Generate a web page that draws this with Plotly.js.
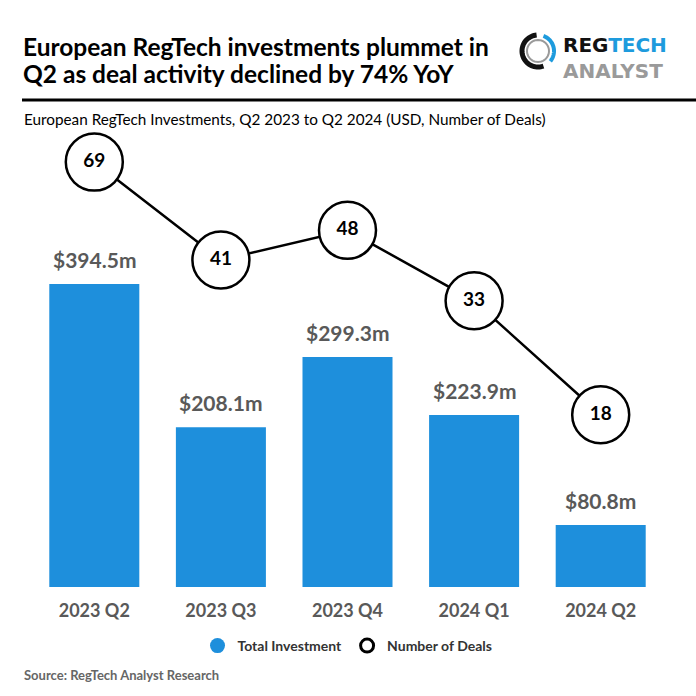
<!DOCTYPE html>
<html>
<head>
<meta charset="utf-8">
<script src="https://cdn.plot.ly/plotly-3.0.1.min.js"></script>
<style>html,body{margin:0;padding:0;background:#fff;}#chart{width:696px;height:696px;}</style>
</head>
<body>
<div id="chart"></div>
<script>
const categories = ['2023 Q2', '2023 Q3', '2023 Q4', '2024 Q1', '2024 Q2'];
const investment = [394.5, 208.1, 299.3, 223.9, 80.8];
const investmentLabels = ['$394.5m', '$208.1m', '$299.3m', '$223.9m', '$80.8m'];
const deals = [69, 41, 48, 33, 18];
const dealLabels = ['69', '41', '48', '33', '18'];

const W = 696, H = 696;
const L = 31, R = 664, T = 130, B = 587;
const px = x => (x - L) / (R - L);
const py = y => (B - y) / (B - T);
const FONT = 'Lato, "Open Sans", sans-serif';
const BLUE = '#1E8FDC';

const traces = [
  {
    type: 'bar', x: categories, y: investment, marker: {color: BLUE},
    showlegend: false, hoverinfo: 'skip'
  },
  {
    type: 'scatter', mode: 'lines+markers+text', x: categories, y: deals, yaxis: 'y2',
    text: dealLabels, textposition: 'middle center',
    textfont: {family: FONT, size: 19, color: '#000', weight: 'bold'},
    line: {color: '#000', width: 2.5},
    marker: {size: 57, color: '#fff', line: {color: '#000', width: 2.5}},
    showlegend: false, hoverinfo: 'skip', cliponaxis: false
  },
  {
    type: 'scatter', mode: 'markers', x: [null], y: [null], name: 'Total Investment',
    marker: {size: 15, color: BLUE}
  },
  {
    type: 'scatter', mode: 'markers', x: [null], y: [null], name: 'Number of Deals',
    marker: {size: 13, color: '#fff', line: {color: '#000', width: 3}}
  }
];

const annotations = investment.map((v, i) => ({
  x: categories[i], y: v, xref: 'x', yref: 'y', text: investmentLabels[i],
  showarrow: false, yanchor: 'bottom', yshift: 10,
  font: {family: FONT, size: 21, color: '#595959', weight: 'bold'}
}));

annotations.push(
  {xref: 'paper', yref: 'paper', x: px(21), y: py(46), xanchor: 'left', yanchor: 'middle',
   text: 'European RegTech investments plummet in', showarrow: false,
   font: {family: FONT, size: 24.5, color: '#000', weight: 'bold'}},
  {xref: 'paper', yref: 'paper', x: px(21), y: py(73), xanchor: 'left', yanchor: 'middle',
   text: 'Q2 as deal activity declined by 74% YoY', showarrow: false,
   font: {family: FONT, size: 24.5, color: '#000', weight: 'bold'}},
  {xref: 'paper', yref: 'paper', x: px(22), y: py(119), xanchor: 'left', yanchor: 'middle',
   text: 'European RegTech Investments, Q2 2023 to Q2 2024 (USD, Number of Deals)', showarrow: false,
   font: {family: FONT, size: 15.3, color: '#000'}},
  {xref: 'paper', yref: 'paper', x: px(22), y: py(675), xanchor: 'left', yanchor: 'middle',
   text: 'Source: RegTech Analyst Research', showarrow: false,
   font: {family: FONT, size: 13, color: '#666', weight: 'bold'}},
  {xref: 'paper', yref: 'paper', x: px(561), y: py(58), xanchor: 'left', yanchor: 'middle',
   text: '<span style="color:#111">REG</span><span style="color:#1E9BDD">TECH</span><br>ANALYST',
   showarrow: false, align: 'left',
   font: {family: '"DejaVu Sans", sans-serif', size: 20, color: '#9a9a9a', weight: 'bold'}}
);

// logo ring drawn in pixel units
function arcPath(r, a0, a1) {
  let d = '';
  const n = 40;
  for (let k = 0; k <= n; k++) {
    const a = (a0 + (a1 - a0) * k / n) * Math.PI / 180;
    const x = (r * Math.cos(a)).toFixed(2), y = (r * Math.sin(a)).toFixed(2);
    d += (k === 0 ? 'M' : 'L') + x + ',' + y + ' ';
  }
  return d;
}
const lx = px(538), ly = py(51);
const logoShape = (r, a0, a1, color, w) => ({
  type: 'path', xref: 'paper', yref: 'paper', xsizemode: 'pixel', ysizemode: 'pixel',
  xanchor: lx, yanchor: ly, path: arcPath(r, a0, a1), line: {color: color, width: w}
});

const shapes = [
  {type: 'line', xref: 'paper', yref: 'paper', x0: px(22), x1: px(700), y0: py(100), y1: py(100),
   line: {color: '#000', width: 3}},
  logoShape(16, 95, 290, '#111', 5),
  logoShape(16, -40, 70, '#1E9BDD', 4),
  logoShape(11, 0, 360, '#9a9a9a', 2)
];

const layout = {
  width: W, height: H,
  margin: {l: L, r: W - R, t: T, b: H - B, pad: 0},
  paper_bgcolor: '#fff', plot_bgcolor: '#fff',
  bargap: 0.289,
  xaxis: {type: 'category', range: [-0.5, 4.5], showgrid: false, zeroline: false, showline: false,
          ticks: '', ticklabelstandoff: 11,
          tickfont: {family: FONT, size: 18, color: '#595959', weight: 'bold'}, fixedrange: true},
  yaxis: {range: [0, 595], visible: false, showgrid: false, zeroline: false, fixedrange: true},
  yaxis2: {type: 'log', range: [0.8576, 1.913], overlaying: 'y', visible: false, showgrid: false, fixedrange: true},
  showlegend: true,
  legend: {orientation: 'h', x: 0.5, xanchor: 'center', y: py(646), yanchor: 'middle',
           font: {family: FONT, size: 14, color: '#333', weight: 'bold'}, itemwidth: 30,
           bgcolor: 'rgba(0,0,0,0)'},
  annotations: annotations,
  shapes: shapes
};

Plotly.newPlot('chart', traces, layout, {displayModeBar: false, staticPlot: true});
</script>
</body>
</html>
